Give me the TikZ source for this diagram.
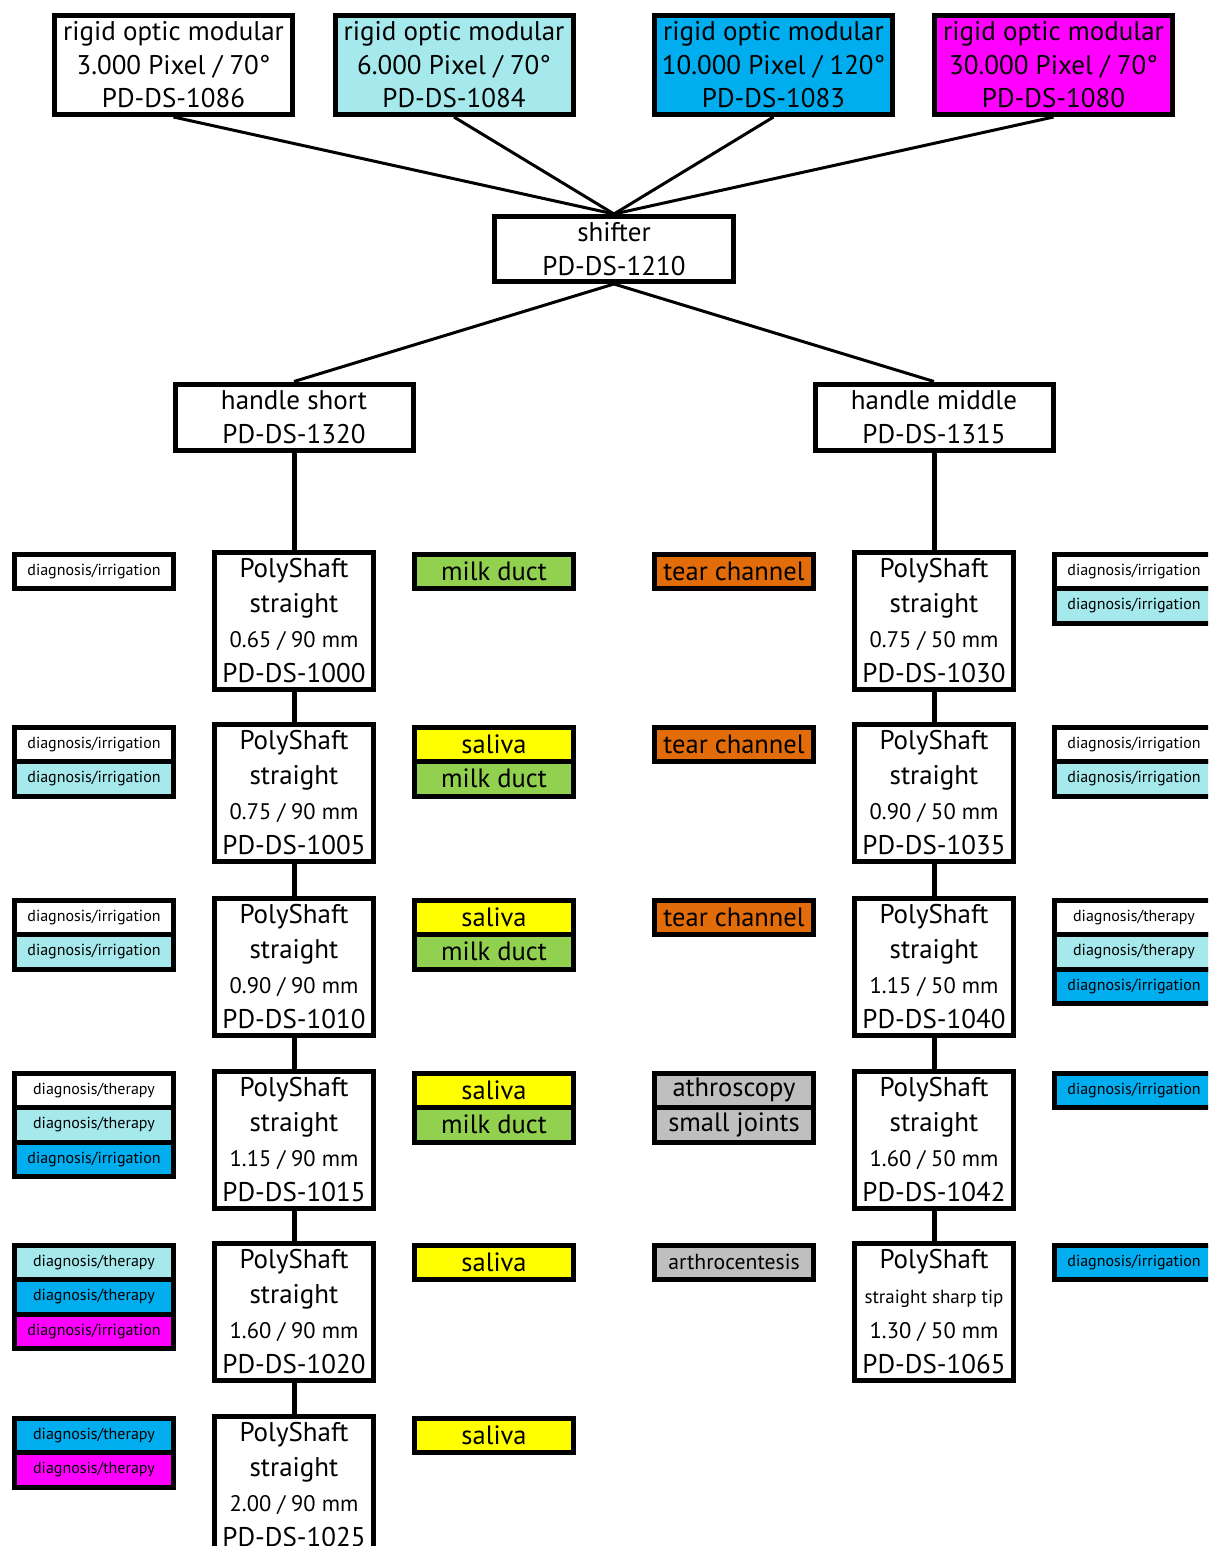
\documentclass[tikz,border=0pt]{standalone}
\usepackage{fontspec}
\setmainfont{PT Sans}
\definecolor{lysblaa}{RGB}{166,233,237}
\definecolor{blaa}{RGB}{0,174,239}
\definecolor{lilla}{RGB}{255,0,255}
\definecolor{groen}{RGB}{146,208,80}
\definecolor{gul}{RGB}{255,255,0}
\definecolor{oransje}{RGB}{227,108,10}
\definecolor{graa}{RGB}{191,191,191}
\tikzset{
  optikk/.style={draw, fill=white, line width=5pt, minimum width=238pt, minimum height=99pt, inner sep=0pt, align=center, font=\fontsize{27}{33.5}\selectfont},
  boks/.style={draw, fill=white, line width=5pt, minimum width=238pt, minimum height=66pt, inner sep=0pt, align=center, font=\fontsize{27}{34}\selectfont},
  skaft/.style={draw, fill=white, line width=5pt, minimum width=159pt, minimum height=137pt, inner sep=0pt, align=center, font=\fontsize{27}{35}\selectfont},
  merke/.style={draw, fill=white, line width=5pt, minimum width=159pt, minimum height=34.5pt, inner sep=0pt, anchor=north, font=\fontsize{16}{19}\selectfont},
  stor/.style={merke, font=\fontsize{26.5}{30}\selectfont},
  linje/.style={line width=3pt},
  loddrett/.style={line width=5pt},
}
\begin{document}
\begin{tikzpicture}[x=1pt, y=-1pt]
    \useasboundingbox (0,0) rectangle (1208,1546);
    \clip (0,0) rectangle (1208,1546);

    %Optikk
        \node[optikk] (opt1) at (173.5,65) {rigid optic modular\\3.000 Pixel / 70°\\PD-DS-1086};
        \node[optikk, fill=lysblaa] (opt2) at (454,65) {rigid optic modular\\6.000 Pixel / 70°\\PD-DS-1084};
        \node[optikk, fill=blaa] (opt3) at (773.5,65) {rigid optic modular\\10.000 Pixel / 120°\\PD-DS-1083};
        \node[optikk, fill=lilla] (opt4) at (1053.5,65) {rigid optic modular\\30.000 Pixel / 70°\\PD-DS-1080};

    %Shifter og handtak
        \node[boks, minimum width=239pt, minimum height=65pt] (shifter) at (614,249) {shifter\\PD-DS-1210};
        \node[boks] (kort) at (294,417) {handle short\\PD-DS-1320};
        \node[boks] (middels) at (934,417) {handle middle\\PD-DS-1315};

    %Skaft venstre
        \node[skaft] (v1) at (294,621) {PolyShaft\\straight\\{\fontsize{22.5}{35}\selectfont 0.65 / 90 mm}\\PD-DS-1000};
        \node[skaft] (v2) at (294,793) {PolyShaft\\straight\\{\fontsize{22.5}{35}\selectfont 0.75 / 90 mm}\\PD-DS-1005};
        \node[skaft] (v3) at (294,966.5) {PolyShaft\\straight\\{\fontsize{22.5}{35}\selectfont 0.90 / 90 mm}\\PD-DS-1010};
        \node[skaft] (v4) at (294,1139.5) {PolyShaft\\straight\\{\fontsize{22.5}{35}\selectfont 1.15 / 90 mm}\\PD-DS-1015};
        \node[skaft] (v5) at (294,1312) {PolyShaft\\straight\\{\fontsize{22.5}{35}\selectfont 1.60 / 90 mm}\\PD-DS-1020};
        \node[skaft] (v6) at (294,1485) {PolyShaft\\straight\\{\fontsize{22.5}{35}\selectfont 2.00 / 90 mm}\\PD-DS-1025};

    %Skaft hoyre
        \node[skaft] (h1) at (934,621) {PolyShaft\\straight\\{\fontsize{22.5}{35}\selectfont 0.75 / 50 mm}\\PD-DS-1030};
        \node[skaft] (h2) at (934,793) {PolyShaft\\straight\\{\fontsize{22.5}{35}\selectfont 0.90 / 50 mm}\\PD-DS-1035};
        \node[skaft] (h3) at (934,966.5) {PolyShaft\\straight\\{\fontsize{22.5}{35}\selectfont 1.15 / 50 mm}\\PD-DS-1040};
        \node[skaft] (h4) at (934,1139.5) {PolyShaft\\straight\\{\fontsize{22.5}{35}\selectfont 1.60 / 50 mm}\\PD-DS-1042};
        \node[skaft] (h5) at (934,1312) {PolyShaft\\{\fontsize{19}{35}\selectfont straight sharp tip}\\{\fontsize{22.5}{35}\selectfont 1.30 / 50 mm}\\PD-DS-1065};

    %Linjer
        \draw[linje] (opt1.south) -- (shifter.north);
        \draw[linje] (opt2.south) -- (shifter.north);
        \draw[linje] (opt3.south) -- (shifter.north);
        \draw[linje] (opt4.south) -- (shifter.north);
        \draw[linje] (shifter.south) -- (kort.north);
        \draw[linje] (shifter.south) -- (middels.north);
        \draw[loddrett] (kort) -- (v1);
        \draw[loddrett] (v1) -- (v2);
        \draw[loddrett] (v2) -- (v3);
        \draw[loddrett] (v3) -- (v4);
        \draw[loddrett] (v4) -- (v5);
        \draw[loddrett] (v5) -- (v6);
        \draw[loddrett] (middels) -- (h1);
        \draw[loddrett] (h1) -- (h2);
        \draw[loddrett] (h2) -- (h3);
        \draw[loddrett] (h3) -- (h4);
        \draw[loddrett] (h4) -- (h5);

    %Merker venstre
        \node[merke] (va1) at (94,551.5) {diagnosis/irrigation};
        \node[merke] (va2) at (94,724.5) {diagnosis/irrigation};
        \node[merke, fill=lysblaa] (vb2) at (94,759) {diagnosis/irrigation};
        \node[merke] (va3) at (94,897.5) {diagnosis/irrigation};
        \node[merke, fill=lysblaa] (vb3) at (94,932) {diagnosis/irrigation};
        \node[merke] (va4) at (94,1070.5) {diagnosis/therapy};
        \node[merke, fill=lysblaa] (vb4) at (94,1105) {diagnosis/therapy};
        \node[merke, fill=blaa] (vc4) at (94,1139.5) {diagnosis/irrigation};
        \node[merke, fill=lysblaa] (va5) at (94,1242.5) {diagnosis/therapy};
        \node[merke, fill=blaa] (vb5) at (94,1277) {diagnosis/therapy};
        \node[merke, fill=lilla] (vc5) at (94,1311.5) {diagnosis/irrigation};
        \node[merke, fill=blaa] (va6) at (94,1415.5) {diagnosis/therapy};
        \node[merke, fill=lilla] (vb6) at (94,1450) {diagnosis/therapy};

    %Bruk venstre
        \node[stor, fill=groen] (sa1) at (494,551.5) {milk duct};
        \node[stor, fill=gul] (sa2) at (494,724.5) {saliva};
        \node[stor, fill=groen] (sb2) at (494,759) {milk duct};
        \node[stor, fill=gul] (sa3) at (494,897.5) {saliva};
        \node[stor, fill=groen] (sb3) at (494,932) {milk duct};
        \node[stor, fill=gul] (sa4) at (494,1070.5) {saliva};
        \node[stor, fill=groen] (sb4) at (494,1105) {milk duct};
        \node[stor, fill=gul] (sa5) at (494,1242.5) {saliva};
        \node[stor, fill=gul] (sa6) at (494,1415.5) {saliva};

    %Bruk hoyre
        \node[stor, fill=oransje] (ta1) at (734,551.5) {tear channel};
        \node[stor, fill=oransje] (ta2) at (734,724.5) {tear channel};
        \node[stor, fill=oransje] (ta3) at (734,897.5) {tear channel};
        \node[stor, fill=graa] (ta4) at (734,1070.5) {athroscopy};
        \node[stor, fill=graa] (tb4) at (734,1105) {small joints};
        \node[stor, fill=graa, font=\fontsize{21.7}{26}\selectfont] (ta5) at (734,1242.5) {arthrocentesis};

    %Merker hoyre
        \node[merke] (ha1) at (1134,551.5) {diagnosis/irrigation};
        \node[merke, fill=lysblaa] (hb1) at (1134,586) {diagnosis/irrigation};
        \node[merke] (ha2) at (1134,724.5) {diagnosis/irrigation};
        \node[merke, fill=lysblaa] (hb2) at (1134,759) {diagnosis/irrigation};
        \node[merke] (ha3) at (1134,897.5) {diagnosis/therapy};
        \node[merke, fill=lysblaa] (hb3) at (1134,932) {diagnosis/therapy};
        \node[merke, fill=blaa] (hc3) at (1134,966.5) {diagnosis/irrigation};
        \node[merke, fill=blaa] (ha4) at (1134,1070.5) {diagnosis/irrigation};
        \node[merke, fill=blaa] (ha5) at (1134,1242.5) {diagnosis/irrigation};
\end{tikzpicture}
\end{document}
